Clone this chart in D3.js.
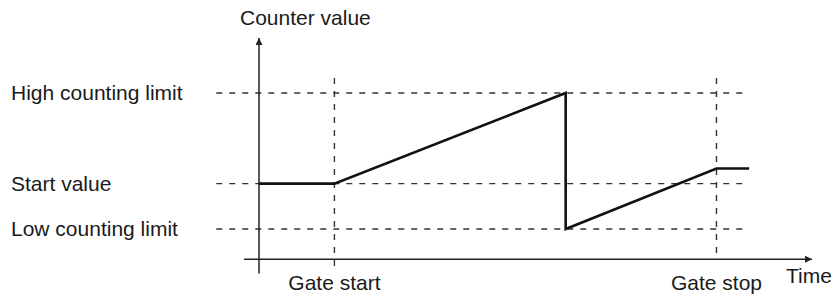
<!DOCTYPE html>
<html>
<head>
<meta charset="utf-8">
<script src="https://cdn.jsdelivr.net/npm/d3@7"></script>
<style>
  body { margin: 0; background: #fff; }
  svg { display: block; font-family: 'Liberation Sans', Arial, sans-serif; }
</style>
</head>
<body>
<div id="chart"></div>
<script>
// levels on the counter axis
const levelNames = ['High counting limit', 'Start value', 'Low counting limit'];
const levelValues = [10, 4, 1];

// gate events on the time axis
const gateNames = ['Gate start', 'Gate stop'];
const gateTimes = [1.5, 9.1];

// counter trace
const traceTimes = [0, 1.5, 6.1, 6.1, 9.1, 9.75];
const traceValues = [4, 4, 10, 1, 5, 5];

const width = 835;
const height = 295;

const svg = d3.select('#chart').append('svg')
  .attr('width', width)
  .attr('height', height);

const x = d3.scaleLinear().domain([0, 11]).range([259, 812]);
const y = d3.scaleLinear().domain([-1, 13.64]).range([259.2, 38]);

const defs = svg.append('defs');
defs.append('marker')
  .attr('id', 'arrow')
  .attr('viewBox', '0 0 10 10')
  .attr('refX', 10)
  .attr('refY', 5)
  .attr('markerWidth', 8)
  .attr('markerHeight', 7)
  .attr('markerUnits', 'userSpaceOnUse')
  .attr('orient', 'auto')
  .append('path')
  .attr('d', 'M0,0L10,5L0,10Z')
  .attr('fill', '#222');

// dashed level lines
svg.selectAll('.level')
  .data(levelValues)
  .enter()
  .append('line')
  .attr('class', 'level')
  .attr('x1', x(-0.85))
  .attr('x2', x(9.75))
  .attr('y1', d => y(d))
  .attr('y2', d => y(d))
  .attr('stroke', '#333')
  .attr('stroke-width', 1.4)
  .attr('stroke-dasharray', '6,7');

// dashed gate lines
svg.selectAll('.gate')
  .data(gateTimes)
  .enter()
  .append('line')
  .attr('class', 'gate')
  .attr('x1', d => x(d))
  .attr('x2', d => x(d))
  .attr('y1', y(11))
  .attr('y2', (d, i) => i === 0 ? y(-1.65) : y(-1))
  .attr('stroke', '#333')
  .attr('stroke-width', 1.4)
  .attr('stroke-dasharray', '6,7');

// axes
svg.append('line')
  .attr('x1', x(-0.3))
  .attr('x2', x(11))
  .attr('y1', y(-1))
  .attr('y2', y(-1))
  .attr('stroke', '#222')
  .attr('stroke-width', 1.5)
  .attr('marker-end', 'url(#arrow)');

svg.append('line')
  .attr('x1', x(0))
  .attr('x2', x(0))
  .attr('y1', y(-1.95))
  .attr('y2', y(13.64))
  .attr('stroke', '#222')
  .attr('stroke-width', 1.5)
  .attr('marker-end', 'url(#arrow)');

// trace
const line = d3.line()
  .x((d, i) => x(traceTimes[i]))
  .y(d => y(d));

svg.append('path')
  .datum(traceValues)
  .attr('d', line)
  .attr('fill', 'none')
  .attr('stroke', '#111')
  .attr('stroke-width', 2.6)
  .attr('stroke-linejoin', 'miter');

// labels
svg.selectAll('.level-label')
  .data(levelNames)
  .enter()
  .append('text')
  .attr('class', 'level-label')
  .attr('x', 11)
  .attr('y', (d, i) => y(levelValues[i]) + 7)
  .attr('font-size', 21)
  .attr('fill', '#1a1a1a')
  .text(d => d);

svg.selectAll('.gate-label')
  .data(gateNames)
  .enter()
  .append('text')
  .attr('class', 'gate-label')
  .attr('x', (d, i) => x(gateTimes[i]))
  .attr('y', 290)
  .attr('text-anchor', 'middle')
  .attr('font-size', 21)
  .attr('fill', '#1a1a1a')
  .text(d => d);

svg.append('text')
  .attr('x', 240)
  .attr('y', 25)
  .attr('font-size', 21)
  .attr('fill', '#1a1a1a')
  .text('Counter value');

svg.append('text')
  .attr('x', 786)
  .attr('y', 283)
  .attr('font-size', 21)
  .attr('fill', '#1a1a1a')
  .text('Time');
</script>
</body>
</html>
